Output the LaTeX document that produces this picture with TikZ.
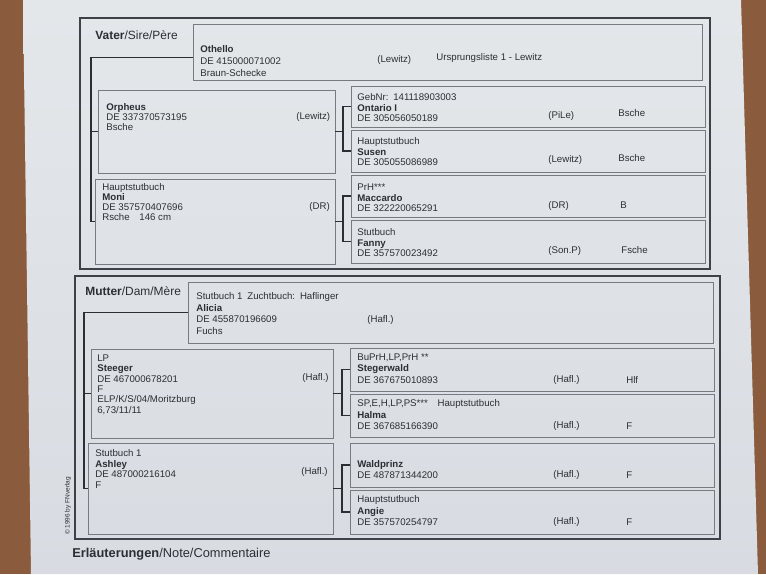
\documentclass[tikz,border=0pt]{standalone}
\usepackage{fontspec}
\setmainfont{Liberation Sans}
\definecolor{wood}{HTML}{8A5B3C}
\definecolor{paperhi}{HTML}{E4E7EA}
\definecolor{paperlo}{HTML}{D8DCE2}
\definecolor{ink}{HTML}{2B2E33}
\definecolor{boxgray}{HTML}{767B82}
\definecolor{framegray}{HTML}{3D4148}

\begin{document}
\begin{tikzpicture}[
  x=0.02cm, y=-0.02cm,
  pedframe/.style={draw=framegray, line width=.75pt},
  pedbox/.style 2 args={draw=boxgray, line width=.45pt, anchor=north west,
    inner sep=0pt, outer sep=0pt, minimum width=#1*0.02cm, minimum height=#2*0.02cm},
  bracket/.style={draw=ink, line width=.6pt},
  txt/.style={text=ink, font=\fontsize{5.5}{#1}\selectfont, align=left,
    anchor=north west, inner sep=0pt},
  txt/.default=6,
  col/.style={text=ink, font=\fontsize{5.5}{6}\selectfont, anchor=west, inner sep=0pt},
  heading/.style={text=ink, font=\fontsize{6.8}{8}\selectfont, anchor=west, inner sep=0pt}
  ]
\useasboundingbox (0,0) rectangle (766,574);
\fill [wood] (0,0) rectangle (766,574);
\shade [top color=paperhi, bottom color=paperlo] (23,0) -- (741,0) -- (758,574) -- (31,574) -- cycle;

% Vater
\draw [pedframe] (80,18) rectangle (710,269);
\node [heading] (sire) at (95,35) {\textbf{Vater}/Sire/Père};
\node [pedbox={509}{56}] (othello) at (193,24) {};
\node [pedbox={237}{83}] (orpheus) at (98,90) {};
\node [pedbox={240}{85}] (moni) at (95,179) {};
\node [pedbox={354}{41}] (ontario) at (351,86) {};
\node [pedbox={354}{42}] (susen) at (351,130) {};
\node [pedbox={354}{42}] (maccardo) at (351,175) {};
\node [pedbox={354}{43}] (fanny) at (351,220) {};

\node [txt=6.8] (othello-t) at (200,45.5) {\textbf{Othello}\\DE 415000071002\\Braun-Schecke};
\node [col] (othello-a) at (377,60) {(Lewitz)};
\node [col] (othello-b) at (436,58) {Ursprungsliste 1 - Lewitz};
\node [txt=5.7] (orpheus-t) at (106,103.5) {\textbf{Orpheus}\\DE 337370573195\\Bsche};
\node [col] (orpheus-a) at (296,117) {(Lewitz)};
\node [txt=5.7] (moni-t) at (102,183.5) {Hauptstutbuch\\\textbf{Moni}\\DE 357570407696\\Rsche\quad 146 cm};
\node [col] (moni-a) at (309,207) {(DR)};
\node [txt] (ontario-t) at (357,93.5) {GebNr:\enspace 141118903003\\\textbf{Ontario I}\\DE 305056050189};
\node [col] (ontario-a) at (548,116) {(PiLe)};
\node [col] (ontario-b) at (618,113) {Bsche};
\node [txt] (susen-t) at (357,137.5) {Hauptstutbuch\\\textbf{Susen}\\DE 305055086989};
\node [col] (susen-a) at (548,160) {(Lewitz)};
\node [col] (susen-b) at (618,158) {Bsche};
\node [txt] (maccardo-t) at (357,183.5) {PrH***\\\textbf{Maccardo}\\DE 322220065291};
\node [col] (maccardo-a) at (548,206) {(DR)};
\node [col] (maccardo-b) at (620,205) {B};
\node [txt] (fanny-t) at (357,228.5) {Stutbuch\\\textbf{Fanny}\\DE 357570023492};
\node [col] (fanny-a) at (548,251) {(Son.P)};
\node [col] (fanny-b) at (621,250) {Fsche};

\coordinate (vsire) at (91,0);
\draw [bracket] ([yshift=-3.4pt]othello.west) -| (vsire |- moni.west) -- (moni.west);
\draw [bracket] (orpheus.west) -- (orpheus.west -| vsire);
\draw [bracket] (orpheus.east) -- ++(8,0) coordinate (jorpheus);
\draw [bracket] (ontario.west) -| (jorpheus) |- (susen.west);
\draw [bracket] (moni.east) -- ++(8,0) coordinate (jmoni);
\draw [bracket] (maccardo.west) -| (jmoni) |- (fanny.west);

% Mutter
\draw [pedframe] (75,276) rectangle (720,539);
\node [heading] (dam) at (85,291) {\textbf{Mutter}/Dam/Mère};
\node [pedbox={525}{61}] (alicia) at (188,282) {};
\node [pedbox={242}{89}] (steeger) at (91,349) {};
\node [pedbox={245}{91}] (ashley) at (88,443) {};
\node [pedbox={364}{43}] (stegerwald) at (350,348) {};
\node [pedbox={364}{43}] (halma) at (350,394) {};
\node [pedbox={364}{44}] (waldprinz) at (350,443) {};
\node [pedbox={364}{44}] (angie) at (350,490) {};

\node [txt=6.5] (alicia-t) at (196,292.5) {Stutbuch 1\enspace Zuchtbuch:\enspace Haflinger\\\textbf{Alicia}\\DE 455870196609\\Fuchs};
\node [col] (alicia-a) at (367,320) {(Hafl.)};
\node [txt=5.9] (steeger-t) at (97,354.5) {LP\\\textbf{Steeger}\\DE 467000678201\\F\\ELP/K/S/04/Moritzburg\\6,73/11/11};
\node [col] (steeger-a) at (302,378) {(Hafl.)};
\node [txt=6.5] (stegerwald-t) at (357,353.5) {BuPrH,LP,PrH **\\\textbf{Stegerwald}\\DE 367675010893};
\node [col] (stegerwald-a) at (553,380) {(Hafl.)};
\node [col] (stegerwald-b) at (626,380) {Hlf};
\node [txt=6.5] (halma-t) at (357,399.5) {SP,E,H,LP,PS***\quad Hauptstutbuch\\\textbf{Halma}\\DE 367685166390};
\node [col] (halma-a) at (553,426) {(Hafl.)};
\node [col] (halma-b) at (626,426) {F};
\node [txt] (ashley-t) at (95,449.5) {Stutbuch 1\\\textbf{Ashley}\\DE 487000216104\\F};
\node [col] (ashley-a) at (301,472) {(Hafl.)};
\node [txt=6.2] (waldprinz-t) at (357,460.5) {\textbf{Waldprinz}\\DE 487871344200};
\node [col] (waldprinz-a) at (553,475) {(Hafl.)};
\node [col] (waldprinz-b) at (626,475) {F};
\node [txt=6.5] (angie-t) at (357,495.5) {Hauptstutbuch\\\textbf{Angie}\\DE 357570254797};
\node [col] (angie-a) at (553,522) {(Hafl.)};
\node [col] (angie-b) at (626,522) {F};

\coordinate (vdam) at (84,0);
\draw [bracket] (alicia.west) -| (vdam |- ashley.west) -- (ashley.west);
\draw [bracket] (steeger.west) -- (steeger.west -| vdam);
\draw [bracket] (steeger.east) -- ++(9,0) coordinate (jsteeger);
\draw [bracket] (stegerwald.west) -| (jsteeger) |- (halma.west);
\draw [bracket] (ashley.east) -- ++(9,0) coordinate (jashley);
\draw [bracket] (waldprinz.west) -| (jashley) |- (angie.west);

\node [text=ink, font=\fontsize{3.7}{4}\selectfont, rotate=90, inner sep=0pt] (copy) at (68,506) {© 1996 by FNverlag};
\node [heading, font=\fontsize{7.3}{9}\selectfont] (notes) at (72,554) {\textbf{Erläuterungen}/Note/Commentaire};
\end{tikzpicture}
\end{document}
